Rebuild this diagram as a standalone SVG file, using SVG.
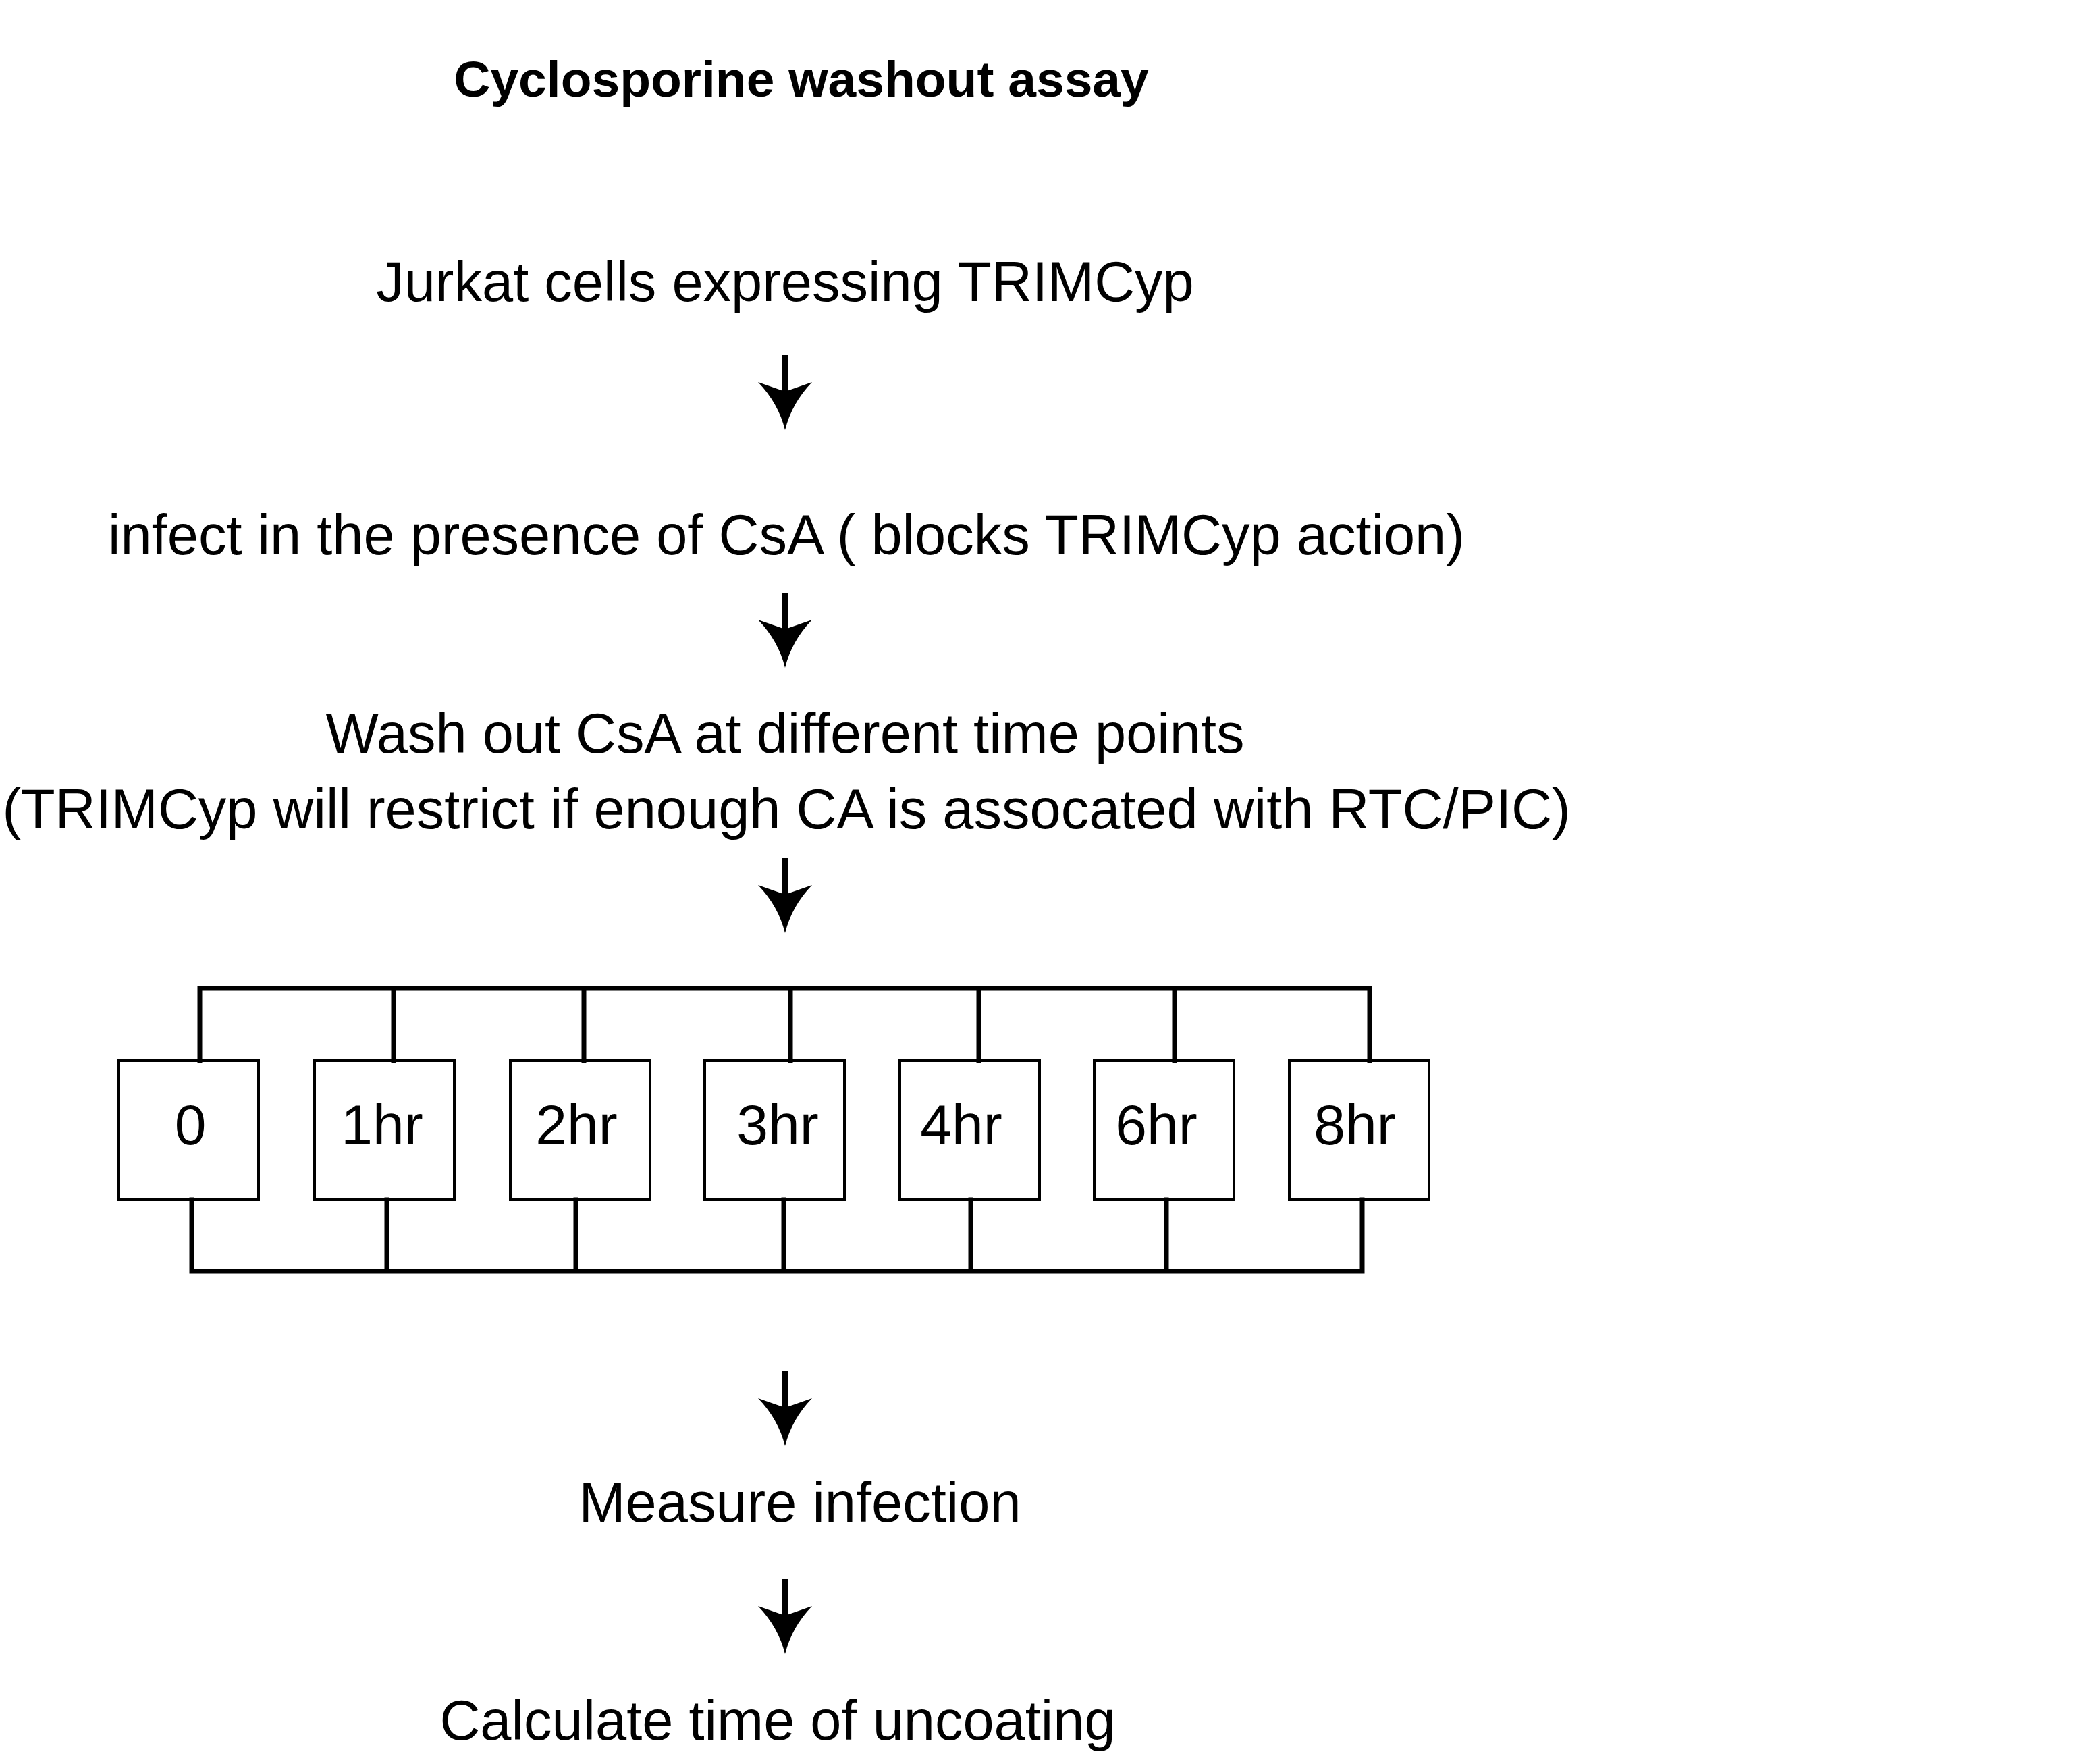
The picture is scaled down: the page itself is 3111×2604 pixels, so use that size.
<svg xmlns="http://www.w3.org/2000/svg" width="3111" height="2604" viewBox="0 0 3111 2604">
<style>
  text { font-family: "Liberation Sans", Arial, sans-serif; fill: #000; }
  .title { font-size: 75px; font-weight: bold; text-anchor: middle; }
  .body { font-size: 83px; text-anchor: middle; }
  .lbl { font-size: 84px; text-anchor: middle; }
  .box { fill: #fff; stroke: #000; stroke-width: 4; }
  .wire { fill: none; stroke: #000; stroke-width: 7; stroke-linecap: square; }
  .shaft { fill: #000; }
</style>
<defs>
  <g id="arrow">
    <rect x="-4" y="0" width="8" height="62" class="shaft"/>
    <path d="M0,111 Q-10,71 -40,40 L0,54 L40,40 Q10,71 0,111 Z" fill="#000"/>
  </g>
</defs>
<rect width="3111" height="2604" fill="#fff"/>

<g id="title"><text class="title" x="1187" y="143">Cyclosporine washout assay</text></g>

<g id="step1"><text class="body" x="1163" y="446">Jurkat cells expressing TRIMCyp</text></g>
<g id="step2"><text class="body" x="1165" y="821">infect in the presence of CsA ( blocks TRIMCyp action)</text></g>
<g id="step3">
  <text class="body" x="1163" y="1115">Wash out CsA at different time points</text>
  <text class="body" x="1165" y="1227">(TRIMCyp will restrict if enough CA is assocated with RTC/PIC)</text>
</g>

<g id="t0"><rect class="box" x="176" y="1571" width="207" height="206"/><text class="lbl" x="282" y="1695">0</text></g>
<g id="t1"><rect class="box" x="466" y="1571" width="207" height="206"/><text class="lbl" x="566" y="1695">1hr</text></g>
<g id="t2"><rect class="box" x="756" y="1571" width="207" height="206"/><text class="lbl" x="854" y="1695">2hr</text></g>
<g id="t3"><rect class="box" x="1044" y="1571" width="207" height="206"/><text class="lbl" x="1152" y="1695">3hr</text></g>
<g id="t4"><rect class="box" x="1333" y="1571" width="207" height="206"/><text class="lbl" x="1424" y="1695">4hr</text></g>
<g id="t6"><rect class="box" x="1621" y="1571" width="207" height="206"/><text class="lbl" x="1713" y="1695">6hr</text></g>
<g id="t8"><rect class="box" x="1910" y="1571" width="207" height="206"/><text class="lbl" x="2007" y="1695">8hr</text></g>

<g id="step4"><text class="body" x="1185" y="2254">Measure infection</text></g>
<g id="step5"><text class="body" x="1152" y="2577">Calculate time of uncoating</text></g>

<g id="connectors">
  <use href="#arrow" x="1163" y="526"/>
  <use href="#arrow" x="1163" y="878"/>
  <use href="#arrow" x="1163" y="1271"/>
  <use href="#arrow" x="1163" y="2031"/>
  <use href="#arrow" x="1163" y="2339"/>
  <path class="wire" d="M296,1464 H2029 M296,1464 V1571 M583,1464 V1571 M865,1464 V1571 M1171,1464 V1571 M1450,1464 V1571 M1740,1464 V1571 M2029,1464 V1571"/>
  <path class="wire" d="M284,1883 H2018 M284,1777 V1883 M573,1777 V1883 M853,1777 V1883 M1161,1777 V1883 M1438,1777 V1883 M1728,1777 V1883 M2018,1777 V1883"/>
</g>
</svg>
